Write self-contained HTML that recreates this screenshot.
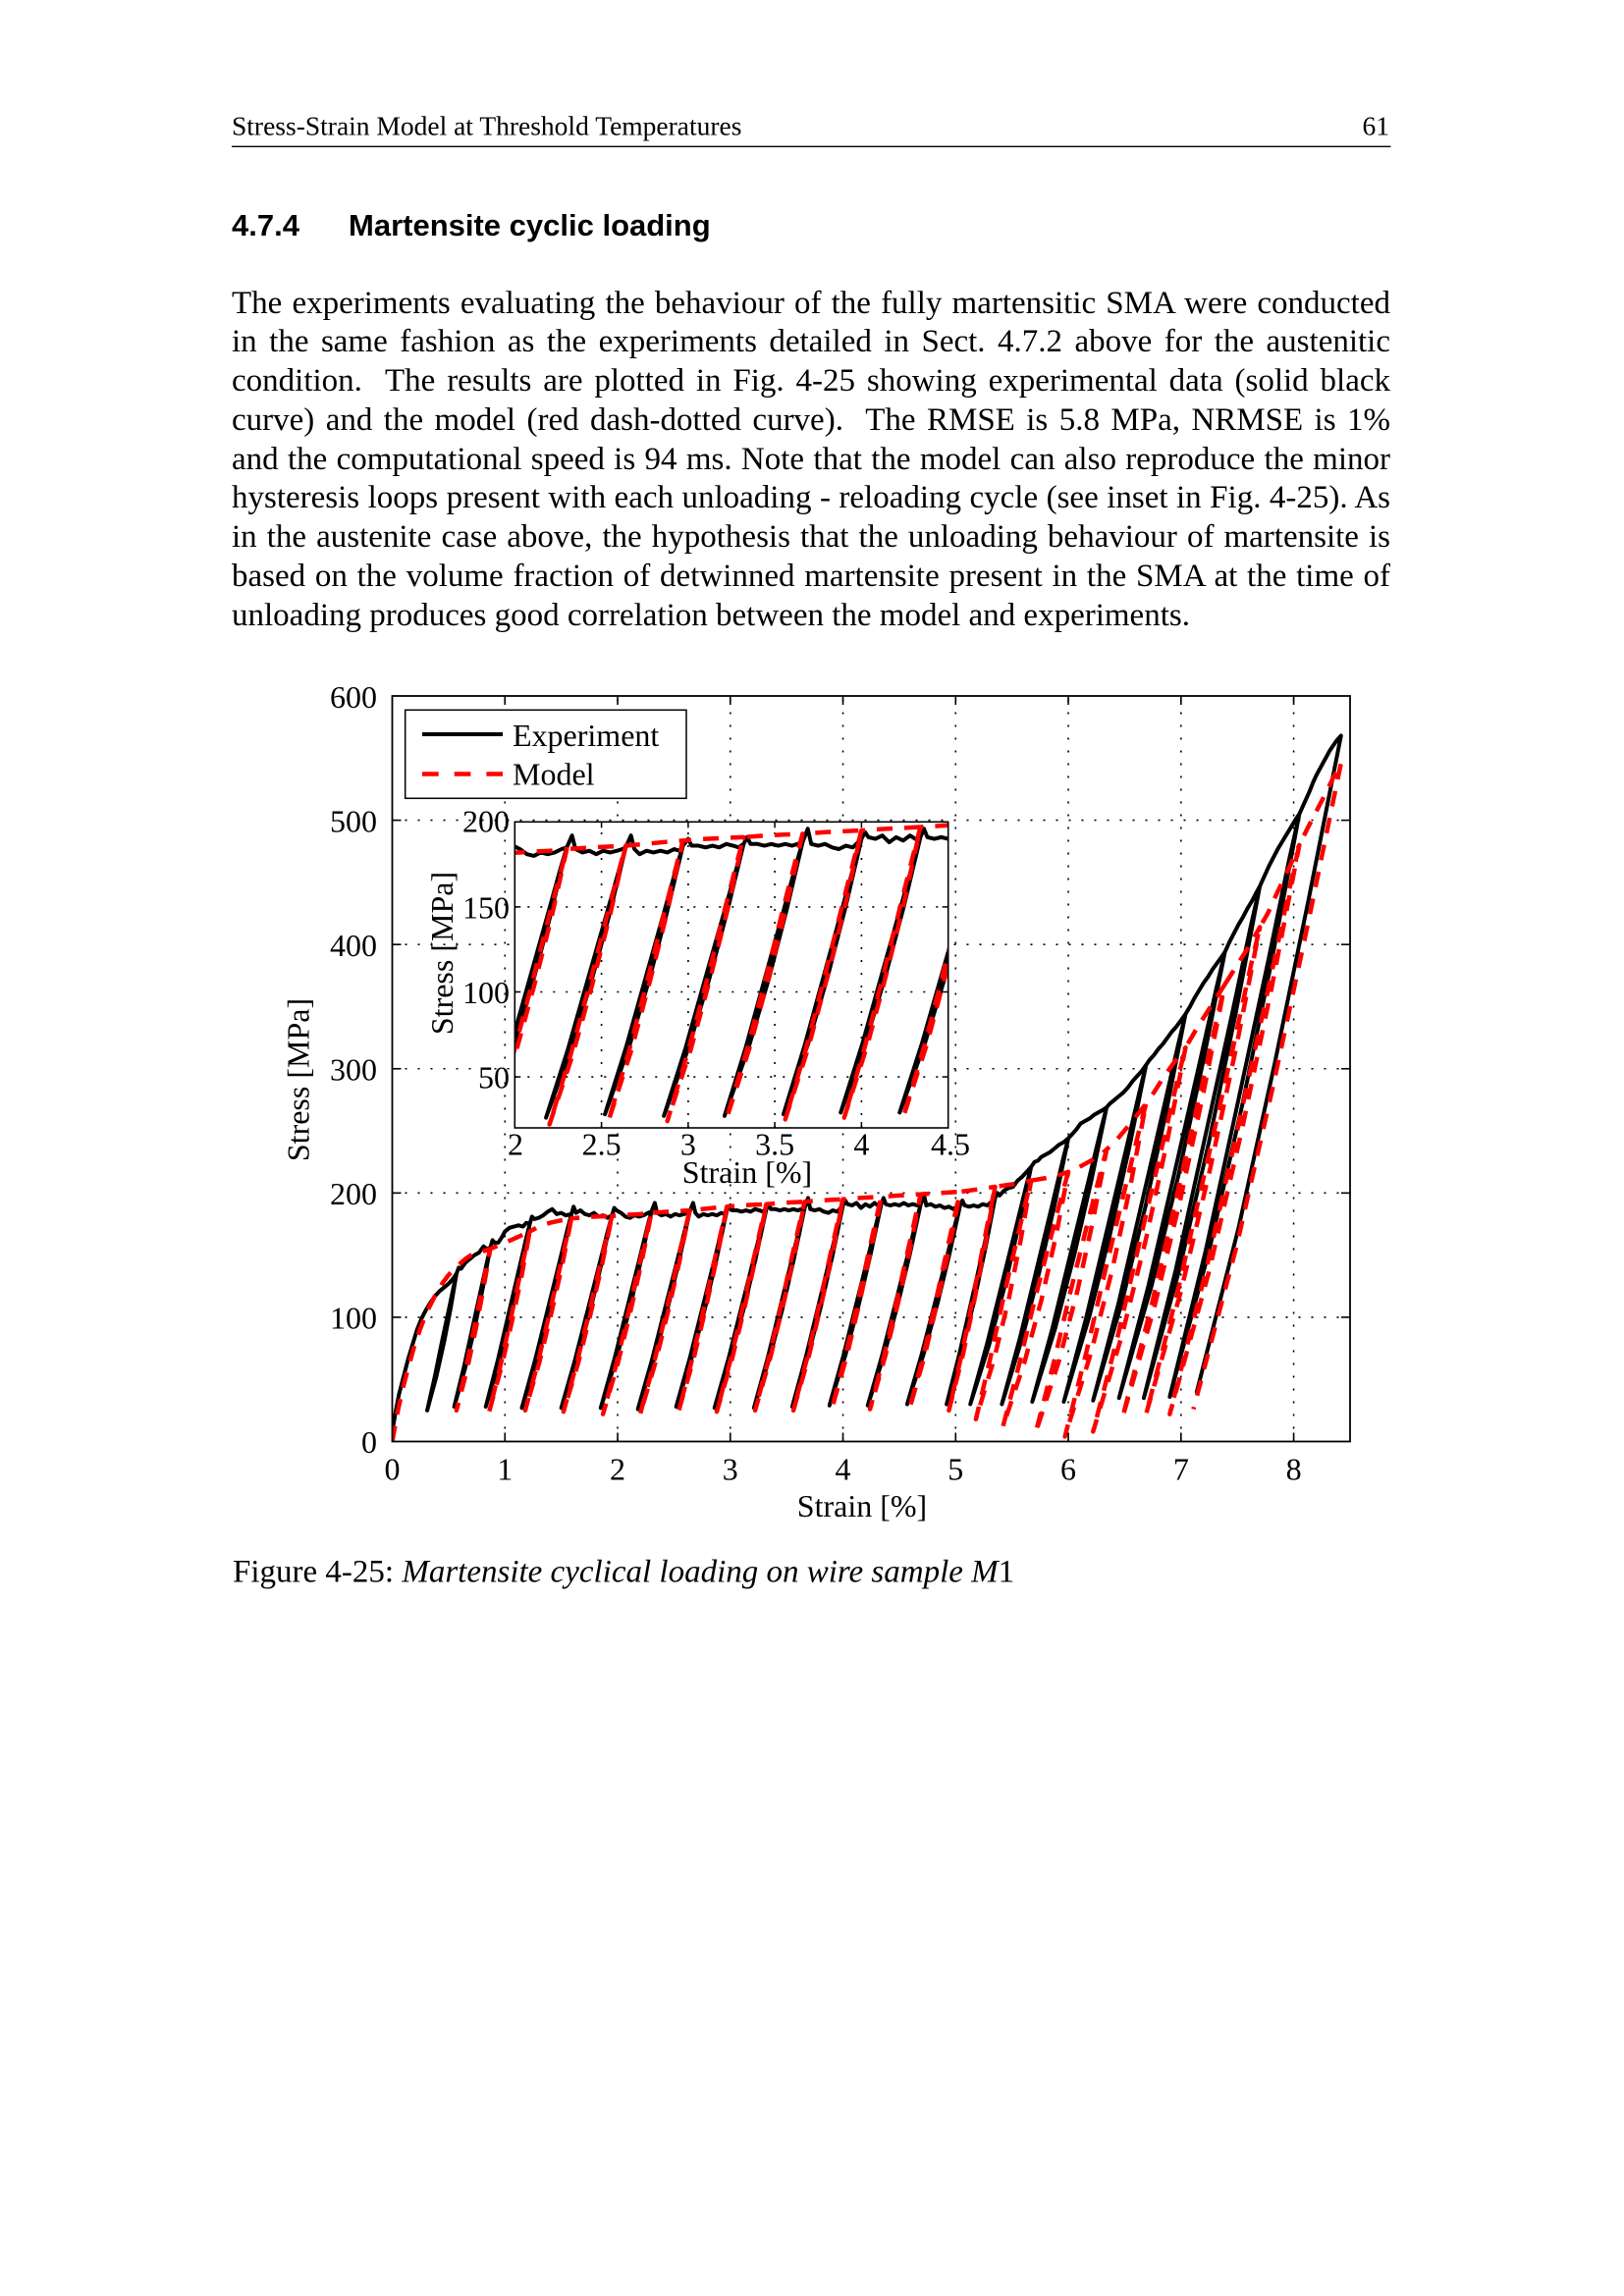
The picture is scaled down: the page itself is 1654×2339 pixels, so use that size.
<!DOCTYPE html>
<html><head><meta charset="utf-8">
<style>
html,body{margin:0;padding:0;background:#fff}
#pg{position:relative;width:1654px;height:2339px;overflow:hidden;background:#fff}
svg{position:absolute;left:0;top:0}
.par{position:absolute;left:236px;top:289.5px;width:1180px;font-family:"Liberation Serif",serif;font-size:33px;line-height:39.8px;color:#000}
.par div{height:39.8px;text-align:justify;text-align-last:justify;word-spacing:-2px}
.par div.last{text-align:left;text-align-last:left;word-spacing:0}
.t{font-family:"Liberation Serif",serif;font-size:32px;fill:#000}
</style></head>
<body><div id="pg">
<svg width="1654" height="2339" viewBox="0 0 1654 2339" xmlns="http://www.w3.org/2000/svg">
<defs>
<clipPath id="cm"><rect x="399.5" y="709" width="975.5" height="759.5"/></clipPath>
<clipPath id="ci"><rect x="524.3" y="837.3" width="441.4" height="311.7"/></clipPath>
</defs>

<!-- header -->
<text x="236" y="137.3" style="font-family:'Liberation Serif',serif;font-size:27.5px">Stress-Strain Model at Threshold Temperatures</text>
<text x="1415" y="137.3" text-anchor="end" style="font-family:'Liberation Serif',serif;font-size:27.5px">61</text>
<line x1="236" y1="149.3" x2="1416.5" y2="149.3" stroke="#000" stroke-width="1.3"/>
<text x="236" y="240" style="font-family:'Liberation Sans',sans-serif;font-size:31px;font-weight:bold">4.7.4</text>
<text x="355" y="240" style="font-family:'Liberation Sans',sans-serif;font-size:31px;font-weight:bold">Martensite cyclic loading</text>

<!-- main grid -->
<g stroke="#000" stroke-width="1.6" stroke-dasharray="2 11" fill="none">
<line x1="514.26" y1="1468.5" x2="514.26" y2="709"/>
<line x1="629.02" y1="1468.5" x2="629.02" y2="709"/>
<line x1="743.78" y1="1468.5" x2="743.78" y2="709"/>
<line x1="858.54" y1="1468.5" x2="858.54" y2="709"/>
<line x1="973.3" y1="1468.5" x2="973.3" y2="709"/>
<line x1="1088.06" y1="1468.5" x2="1088.06" y2="709"/>
<line x1="1202.82" y1="1468.5" x2="1202.82" y2="709"/>
<line x1="1317.58" y1="1468.5" x2="1317.58" y2="709"/>
<line x1="399.5" y1="1341.92" x2="1375" y2="1341.92"/>
<line x1="399.5" y1="1215.34" x2="1375" y2="1215.34"/>
<line x1="399.5" y1="1088.76" x2="1375" y2="1088.76"/>
<line x1="399.5" y1="962.18" x2="1375" y2="962.18"/>
<line x1="399.5" y1="835.6" x2="1375" y2="835.6"/>
</g>

<!-- main curves -->
<g clip-path="url(#cm)">
<g transform="matrix(114.76 0 0 -1.2658 399.5 1468.5)">
<path vector-effect="non-scaling-stroke" fill="none" stroke="#000" stroke-width="4" stroke-linejoin="round" stroke-linecap="round" d="M0,8 L0.03,24 0.06,38 0.1,52 0.14,66 0.18,78 0.22,90 0.26,99 0.3,106 0.34,112 0.38,117 0.42,121 0.46,124 0.5,127 0.54,131 0.57,135 0.519,107.5 0.46,80 0.392,52.5 0.31,25 0.378,52.5 0.44,80 0.505,107.5 0.548,126.2 0.57,135 0.59,140 0.61,139 0.65,144 0.69,147 0.73,150 0.77,152 0.81,157 0.84,155 0.87,156 0.805,124 0.733,92 0.65,60 0.55,28 0.636,60 0.713,92 0.791,124 0.844,145.8 0.87,156 0.89,162 0.91,160 0.94,160 0.97,164 1.0,169 1.04,172 1.08,173 1.12,174 1.16,173 1.19,176 1.22,175 1.141,138.25 1.053,101.5 0.952,64.75 0.83,28 0.935,64.75 1.029,101.5 1.124,138.25 1.188,163.2 1.22,175 1.24,181 1.26,179 1.3,180 1.34,182 1.38,185 1.42,187 1.46,183 1.5,184 1.54,182 1.59,183 1.499,144 1.4,105 1.286,66 1.15,27 1.269,66 1.376,105 1.483,144 1.554,170.5 1.59,183 1.61,189 1.63,184 1.67,186 1.71,183 1.75,182 1.79,184 1.83,181 1.87,182 1.91,180 1.95,182 1.857,143.25 1.755,104.5 1.639,65.75 1.5,27 1.622,65.75 1.731,104.5 1.84,143.25 1.913,169.6 1.95,182 1.97,188 1.99,186 2.03,184 2.07,181 2.11,180 2.15,182 2.19,181 2.23,182 2.27,184 2.3,185 2.207,145.5 2.105,106 1.989,66.5 1.85,27 1.972,66.5 2.081,106 2.19,145.5 2.263,172.4 2.3,185 2.33,192 2.35,184 2.39,182 2.43,183 2.47,181 2.51,183 2.55,182 2.59,183 2.62,184 2.64,185 2.545,145.25 2.44,105.5 2.322,65.75 2.18,26 2.305,65.75 2.416,105.5 2.528,145.25 2.603,172.3 2.64,185 2.67,192 2.69,184 2.72,181 2.76,183 2.8,182 2.84,183 2.88,182 2.92,184 2.95,183 2.97,186 2.877,146.5 2.775,107 2.659,67.5 2.52,28 2.642,67.5 2.751,107 2.86,146.5 2.933,173.4 2.97,186 3.0,190 3.02,186 3.06,186 3.1,185 3.14,186 3.18,185 3.22,187 3.26,186 3.29,185 3.32,187 3.225,147 3.12,107 3.002,67 2.86,27 2.985,67 3.096,107 3.208,147 3.283,174.2 3.32,187 3.34,191 3.36,187 3.4,187 3.44,186 3.48,187 3.52,186 3.56,187 3.6,186 3.63,187 3.66,188 3.567,147.75 3.465,107.5 3.349,67.25 3.21,27 3.332,67.25 3.441,107.5 3.55,147.75 3.623,175.1 3.66,188 3.69,196 3.71,187 3.75,186 3.79,187 3.83,185 3.87,184 3.91,186 3.95,185 3.98,188 4.0,190 3.907,149.5 3.805,109 3.689,68.5 3.55,28 3.672,68.5 3.781,109 3.89,149.5 3.963,177 4.0,190 4.02,194 4.04,191 4.08,190 4.12,192 4.16,188 4.2,191 4.24,189 4.28,192 4.31,190 4.34,191 4.245,150.5 4.14,110 4.022,69.5 3.88,29 4.005,69.5 4.116,110 4.228,150.5 4.303,178 4.34,191 4.36,196 4.38,191 4.42,190 4.46,191 4.5,190 4.54,192 4.58,190 4.62,191 4.66,190 4.69,191 4.593,150.5 4.486,110 4.365,69.5 4.22,29 4.348,69.5 4.462,110 4.576,150.5 4.652,178 4.69,191 4.72,198 4.74,190 4.78,191 4.82,189 4.86,190 4.9,188 4.94,189 4.98,187 5.01,189 5.04,190 4.943,150 4.836,110 4.715,70 4.57,30 4.698,70 4.812,110 4.926,150 5.002,177.2 5.04,190 5.06,194 5.08,190 5.12,189 5.16,190 5.2,189 5.24,191 5.28,190 5.32,193 5.35,196 5.262,154.5 5.164,113 5.053,71.5 4.92,30 5.036,71.5 5.14,113 5.245,154.5 5.315,182.7 5.35,196 5.37,200 5.39,198 5.43,202 5.47,204 5.51,205 5.55,210 5.59,213 5.63,217 5.67,221 5.559,173.25 5.437,125.5 5.297,77.75 5.13,30 5.276,77.75 5.407,125.5 5.538,173.25 5.626,205.7 5.67,221 5.7,225 5.73,226 5.76,229 5.8,231 5.84,233 5.88,236 5.92,239 5.96,241 6.0,244 5.878,190.5 5.744,137 5.592,83.5 5.41,30 5.571,83.5 5.714,137 5.857,190.5 5.952,226.9 6.0,244 6.03,247 6.07,251 6.11,256 6.15,258 6.19,260 6.23,263 6.27,265 6.31,267 6.34,269 6.204,209.75 6.054,150.5 5.884,91.25 5.68,32 5.859,91.25 6.018,150.5 6.179,209.75 6.286,250 6.34,269 6.37,272 6.41,275 6.45,278 6.49,281 6.53,285 6.57,290 6.61,294 6.65,298 6.69,303 6.538,235.25 6.372,167.5 6.184,99.75 5.96,32 6.159,99.75 6.336,167.5 6.513,235.25 6.631,281.3 6.69,303 6.72,307 6.76,311 6.8,316 6.84,320 6.88,325 6.92,330 6.96,334 7.0,339 7.04,344 6.87,266.25 6.683,188.5 6.472,110.75 6.22,33 6.444,110.75 6.643,188.5 6.841,266.25 6.974,319.1 7.04,344 7.08,350 7.12,357 7.16,363 7.2,369 7.24,374 7.28,380 7.32,385 7.36,390 7.39,394 7.193,304.25 6.978,214.5 6.737,124.75 6.45,35 6.709,124.75 6.938,214.5 7.164,304.25 7.315,365.3 7.39,394 7.43,402 7.47,409 7.51,416 7.55,422 7.59,429 7.63,435 7.67,442 7.7,447 7.484,344 7.248,241 6.984,138 6.67,35 6.953,138 7.204,241 7.453,344 7.617,414 7.7,447 7.74,455 7.78,463 7.82,470 7.86,477 7.9,483 7.94,489 7.98,495 8.02,501 8.05,505 7.807,387.75 7.543,270.5 7.249,153.25 6.9,36 7.218,153.25 7.499,270.5 7.776,387.75 7.958,467.5 8.05,505 8.08,511 8.11,517 8.14,523 8.17,530 8.2,536 8.23,541 8.26,546 8.29,551 8.32,556 8.35,560 8.38,564 8.42,568 8.132,436 7.831,304 7.511,172 7.14,40 7.17,46"/>
<path vector-effect="non-scaling-stroke" fill="none" stroke="#ff0000" stroke-width="4.5" stroke-dasharray="16 12" stroke-linejoin="round" d="M0,0 L0.05,25 0.1,45 0.15,62 0.2,78 0.25,91 0.3,103 0.35,112 0.4,121 0.45,128 0.5,134 0.55,139 0.6,143 0.65,147 0.7,150 0.75,151.5 0.8,153 0.87,155 0.808,122.5 0.74,90 0.663,57.5 0.57,25 0.651,57.5 0.724,90 0.797,122.5 0.845,144.6 0.87,155 0.95,158 1.0,160 1.1,164 1.22,169 1.147,132.75 1.062,96.5 0.97,60.25 0.86,24 0.958,60.25 1.046,96.5 1.131,132.75 1.191,157.4 1.22,169 1.3,173 1.4,176 1.5,178 1.59,179.5 1.506,140.9 1.409,102.25 1.305,63.6 1.18,25 1.293,63.6 1.393,102.25 1.49,140.9 1.557,167.1 1.59,179.5 1.7,180.5 1.8,181 1.95,181.5 1.861,142.1 1.76,102.75 1.651,63.4 1.52,24 1.639,63.4 1.744,102.75 1.845,142.1 1.916,168.9 1.95,181.5 2.1,182.5 2.2,183 2.3,184 2.211,143.5 2.11,103 2.001,62.5 1.87,22 1.989,62.5 2.094,103 2.195,143.5 2.266,171 2.3,184 2.45,185 2.55,185.5 2.64,186 2.549,145 2.446,104 2.334,63 2.2,22 2.322,63 2.43,104 2.533,145 2.605,172.9 2.64,186 2.8,187.5 2.9,188.5 2.97,189 2.881,147.75 2.78,106.5 2.671,65.25 2.54,24 2.659,65.25 2.764,106.5 2.865,147.75 2.936,175.8 2.97,189 3.1,190 3.2,190.5 3.32,191 3.229,149.25 3.126,107.5 3.014,65.75 2.88,24 3.002,65.75 3.11,107.5 3.213,149.25 3.285,177.6 3.32,191 3.45,192 3.55,192.5 3.66,193 3.569,151 3.466,109 3.354,67 3.22,25 3.342,67 3.45,109 3.553,151 3.625,179.6 3.66,193 3.8,194 3.9,194.5 4.0,195 3.909,152.5 3.806,110 3.694,67.5 3.56,25 3.682,67.5 3.79,110 3.893,152.5 3.965,181.4 4.0,195 4.15,196 4.25,196.5 4.34,197 4.249,154.25 4.146,111.5 4.034,68.75 3.9,26 4.022,68.75 4.13,111.5 4.233,154.25 4.305,183.3 4.34,197 4.5,198 4.6,198.5 4.69,199 4.597,155.75 4.491,112.5 4.377,69.25 4.24,26 4.365,69.25 4.475,112.5 4.581,155.75 4.654,185.2 4.69,199 4.85,200 5.04,201 4.947,157.25 4.841,113.5 4.727,69.75 4.59,26 4.715,69.75 4.825,113.5 4.931,157.25 5.004,187 5.04,201 5.2,203 5.35,205 5.266,160 5.169,115 5.065,70 4.94,25 5.053,70 5.153,115 5.25,160 5.317,190.6 5.35,205 5.5,207 5.67,210 5.577,162 5.47,114 5.34,66 5.18,18 5.305,66 5.42,114 5.542,162 5.627,194.6 5.67,210 5.8,212 5.9,214 6.0,217 5.891,165.75 5.763,114.5 5.609,63.25 5.42,12 5.567,63.25 5.703,114.5 5.849,165.75 5.949,200.6 6.0,217 6.1,221 6.2,226 6.28,230 6.34,235 6.219,178 6.08,121 5.914,64 5.71,7 5.872,64 6.02,121 6.177,178 6.286,216.8 6.34,235 6.45,245 6.57,258 6.69,272 6.549,205 6.389,138 6.2,71 5.97,4 6.158,71 6.329,138 6.507,205 6.629,250.6 6.69,272 6.76,281 6.83,291 6.93,304 7.04,317 6.873,239.75 6.688,162.5 6.475,85.25 6.22,8 6.44,85.25 6.638,162.5 6.838,239.75 6.972,292.3 7.04,317 7.15,334 7.27,351 7.39,368 7.199,280.75 6.991,193.5 6.758,106.25 6.48,19 6.73,106.25 6.951,193.5 7.171,280.75 7.317,340.1 7.39,368 7.53,388 7.62,401 7.7,414 7.487,316 7.255,218 6.997,120 6.69,22 6.969,120 7.215,218 7.459,316 7.619,382.6 7.7,414 7.77,425 7.85,441 7.95,460 8.05,480 7.805,365.5 7.541,251 7.248,136.5 6.9,22 7.219,136.5 7.501,251 7.777,365.5 7.959,443.4 8.05,480 8.12,493 8.2,507 8.28,521 8.35,534 8.42,546 8.125,416 7.817,286 7.49,156 7.11,26"/>
</g>
</g>

<!-- main axes box + ticks -->
<rect x="399.5" y="709" width="975.5" height="759.5" fill="none" stroke="#000" stroke-width="1.8"/>
<g stroke="#000" stroke-width="1.6">
<line x1="514.26" y1="1468.5" x2="514.26" y2="1459.5"/><line x1="629.02" y1="1468.5" x2="629.02" y2="1459.5"/><line x1="743.78" y1="1468.5" x2="743.78" y2="1459.5"/><line x1="858.54" y1="1468.5" x2="858.54" y2="1459.5"/><line x1="973.3" y1="1468.5" x2="973.3" y2="1459.5"/><line x1="1088.06" y1="1468.5" x2="1088.06" y2="1459.5"/><line x1="1202.82" y1="1468.5" x2="1202.82" y2="1459.5"/><line x1="1317.58" y1="1468.5" x2="1317.58" y2="1459.5"/>
<line x1="514.26" y1="709" x2="514.26" y2="718"/><line x1="629.02" y1="709" x2="629.02" y2="718"/><line x1="743.78" y1="709" x2="743.78" y2="718"/><line x1="858.54" y1="709" x2="858.54" y2="718"/><line x1="973.3" y1="709" x2="973.3" y2="718"/><line x1="1088.06" y1="709" x2="1088.06" y2="718"/><line x1="1202.82" y1="709" x2="1202.82" y2="718"/><line x1="1317.58" y1="709" x2="1317.58" y2="718"/>
<line x1="399.5" y1="1341.92" x2="408.5" y2="1341.92"/><line x1="399.5" y1="1215.34" x2="408.5" y2="1215.34"/><line x1="399.5" y1="1088.76" x2="408.5" y2="1088.76"/><line x1="399.5" y1="962.18" x2="408.5" y2="962.18"/><line x1="399.5" y1="835.6" x2="408.5" y2="835.6"/>
<line x1="1375" y1="1341.92" x2="1366" y2="1341.92"/><line x1="1375" y1="1215.34" x2="1366" y2="1215.34"/><line x1="1375" y1="1088.76" x2="1366" y2="1088.76"/><line x1="1375" y1="962.18" x2="1366" y2="962.18"/><line x1="1375" y1="835.6" x2="1366" y2="835.6"/>
</g>

<!-- main tick labels -->
<g class="t" text-anchor="end">
<text class="t" x="384" y="721">600</text>
<text class="t" x="384" y="847.3">500</text>
<text class="t" x="384" y="973.9">400</text>
<text class="t" x="384" y="1100.4">300</text>
<text class="t" x="384" y="1227">200</text>
<text class="t" x="384" y="1353.6">100</text>
<text class="t" x="384" y="1480.2">0</text>
</g>
<g class="t" text-anchor="middle">
<text class="t" x="399.5" y="1507.3">0</text>
<text class="t" x="514.26" y="1507.3">1</text>
<text class="t" x="629.02" y="1507.3">2</text>
<text class="t" x="743.78" y="1507.3">3</text>
<text class="t" x="858.54" y="1507.3">4</text>
<text class="t" x="973.3" y="1507.3">5</text>
<text class="t" x="1088.06" y="1507.3">6</text>
<text class="t" x="1202.82" y="1507.3">7</text>
<text class="t" x="1317.58" y="1507.3">8</text>
<text class="t" x="878" y="1545">Strain [%]</text>
<text class="t" x="314.5" y="1100" transform="rotate(-90 314.5 1100)">Stress [MPa]</text>
</g>

<!-- legend -->
<rect x="412.7" y="723.3" width="286.3" height="90" fill="#fff" stroke="#000" stroke-width="1.5"/>
<line x1="430" y1="748" x2="512" y2="748" stroke="#000" stroke-width="4"/>
<line x1="430" y1="788.5" x2="512" y2="788.5" stroke="#ff0000" stroke-width="4.5" stroke-dasharray="16.7 16"/>
<text class="t" x="522" y="760">Experiment</text>
<text class="t" x="522" y="799.5">Model</text>

<!-- inset -->
<rect x="524.3" y="837.3" width="441.4" height="311.7" fill="#fff"/>
<g stroke="#000" stroke-width="1.6" stroke-dasharray="2 11" fill="none">
<line x1="612.6" y1="1149" x2="612.6" y2="837.3"/>
<line x1="700.9" y1="1149" x2="700.9" y2="837.3"/>
<line x1="789.1" y1="1149" x2="789.1" y2="837.3"/>
<line x1="877.4" y1="1149" x2="877.4" y2="837.3"/>
<line x1="524.3" y1="1097.05" x2="965.7" y2="1097.05"/>
<line x1="524.3" y1="1010.5" x2="965.7" y2="1010.5"/>
<line x1="524.3" y1="923.9" x2="965.7" y2="923.9"/>
</g>
<g clip-path="url(#ci)">
<g transform="matrix(176.56 0 0 -1.7317 171.18 1183.63)">
<path vector-effect="non-scaling-stroke" fill="none" stroke="#000" stroke-width="4" stroke-linejoin="round" stroke-linecap="round" d="M1.5,184 L1.54,182 1.59,183 1.499,144 1.4,105 1.286,66 1.15,27 1.269,66 1.376,105 1.483,144 1.554,170.5 1.59,183 1.61,189 1.63,184 1.67,186 1.71,183 1.75,182 1.79,184 1.83,181 1.87,182 1.91,180 1.95,182 1.857,143.25 1.755,104.5 1.639,65.75 1.5,27 1.622,65.75 1.731,104.5 1.84,143.25 1.913,169.6 1.95,182 1.97,188 1.99,186 2.03,184 2.07,181 2.11,180 2.15,182 2.19,181 2.23,182 2.27,184 2.3,185 2.207,145.5 2.105,106 1.989,66.5 1.85,27 1.972,66.5 2.081,106 2.19,145.5 2.263,172.4 2.3,185 2.33,192 2.35,184 2.39,182 2.43,183 2.47,181 2.51,183 2.55,182 2.59,183 2.62,184 2.64,185 2.545,145.25 2.44,105.5 2.322,65.75 2.18,26 2.305,65.75 2.416,105.5 2.528,145.25 2.603,172.3 2.64,185 2.67,192 2.69,184 2.72,181 2.76,183 2.8,182 2.84,183 2.88,182 2.92,184 2.95,183 2.97,186 2.877,146.5 2.775,107 2.659,67.5 2.52,28 2.642,67.5 2.751,107 2.86,146.5 2.933,173.4 2.97,186 3.0,190 3.02,186 3.06,186 3.1,185 3.14,186 3.18,185 3.22,187 3.26,186 3.29,185 3.32,187 3.225,147 3.12,107 3.002,67 2.86,27 2.985,67 3.096,107 3.208,147 3.283,174.2 3.32,187 3.34,191 3.36,187 3.4,187 3.44,186 3.48,187 3.52,186 3.56,187 3.6,186 3.63,187 3.66,188 3.567,147.75 3.465,107.5 3.349,67.25 3.21,27 3.332,67.25 3.441,107.5 3.55,147.75 3.623,175.1 3.66,188 3.69,196 3.71,187 3.75,186 3.79,187 3.83,185 3.87,184 3.91,186 3.95,185 3.98,188 4.0,190 3.907,149.5 3.805,109 3.689,68.5 3.55,28 3.672,68.5 3.781,109 3.89,149.5 3.963,177 4.0,190 4.02,194 4.04,191 4.08,190 4.12,192 4.16,188 4.2,191 4.24,189 4.28,192 4.31,190 4.34,191 4.245,150.5 4.14,110 4.022,69.5 3.88,29 4.005,69.5 4.116,110 4.228,150.5 4.303,178 4.34,191 4.36,196 4.38,191 4.42,190 4.46,191 4.5,190 4.54,192 4.58,190 4.62,191 4.66,190 4.69,191 4.593,150.5 4.486,110 4.365,69.5 4.22,29 4.348,69.5 4.462,110 4.576,150.5 4.652,178 4.69,191"/>
<path vector-effect="non-scaling-stroke" fill="none" stroke="#ff0000" stroke-width="4.5" stroke-dasharray="16 12" stroke-linejoin="round" d="M1.5,178 L1.59,179.5 1.506,140.9 1.409,102.25 1.305,63.6 1.18,25 1.293,63.6 1.393,102.25 1.49,140.9 1.557,167.1 1.59,179.5 1.7,180.5 1.8,181 1.95,181.5 1.861,142.1 1.76,102.75 1.651,63.4 1.52,24 1.639,63.4 1.744,102.75 1.845,142.1 1.916,168.9 1.95,181.5 2.1,182.5 2.2,183 2.3,184 2.211,143.5 2.11,103 2.001,62.5 1.87,22 1.989,62.5 2.094,103 2.195,143.5 2.266,171 2.3,184 2.45,185 2.55,185.5 2.64,186 2.549,145 2.446,104 2.334,63 2.2,22 2.322,63 2.43,104 2.533,145 2.605,172.9 2.64,186 2.8,187.5 2.9,188.5 2.97,189 2.881,147.75 2.78,106.5 2.671,65.25 2.54,24 2.659,65.25 2.764,106.5 2.865,147.75 2.936,175.8 2.97,189 3.1,190 3.2,190.5 3.32,191 3.229,149.25 3.126,107.5 3.014,65.75 2.88,24 3.002,65.75 3.11,107.5 3.213,149.25 3.285,177.6 3.32,191 3.45,192 3.55,192.5 3.66,193 3.569,151 3.466,109 3.354,67 3.22,25 3.342,67 3.45,109 3.553,151 3.625,179.6 3.66,193 3.8,194 3.9,194.5 4.0,195 3.909,152.5 3.806,110 3.694,67.5 3.56,25 3.682,67.5 3.79,110 3.893,152.5 3.965,181.4 4.0,195 4.15,196 4.25,196.5 4.34,197 4.249,154.25 4.146,111.5 4.034,68.75 3.9,26 4.022,68.75 4.13,111.5 4.233,154.25 4.305,183.3 4.34,197 4.5,198 4.6,198.5 4.69,199 4.597,155.75 4.491,112.5 4.377,69.25 4.24,26 4.365,69.25 4.475,112.5 4.581,155.75 4.654,185.2 4.69,199"/>
</g>
</g>
<rect x="524.3" y="837.3" width="441.4" height="311.7" fill="none" stroke="#000" stroke-width="1.6"/>
<g stroke="#000" stroke-width="1.5">
<line x1="612.6" y1="1149" x2="612.6" y2="1143"/><line x1="700.9" y1="1149" x2="700.9" y2="1143"/><line x1="789.1" y1="1149" x2="789.1" y2="1143"/><line x1="877.4" y1="1149" x2="877.4" y2="1143"/>
<line x1="612.6" y1="837.3" x2="612.6" y2="843.3"/><line x1="700.9" y1="837.3" x2="700.9" y2="843.3"/><line x1="789.1" y1="837.3" x2="789.1" y2="843.3"/><line x1="877.4" y1="837.3" x2="877.4" y2="843.3"/>
<line x1="524.3" y1="1097.05" x2="530.3" y2="1097.05"/><line x1="524.3" y1="1010.5" x2="530.3" y2="1010.5"/><line x1="524.3" y1="923.9" x2="530.3" y2="923.9"/>
<line x1="965.7" y1="1097.05" x2="959.7" y2="1097.05"/><line x1="965.7" y1="1010.5" x2="959.7" y2="1010.5"/><line x1="965.7" y1="923.9" x2="959.7" y2="923.9"/>
</g>
<g text-anchor="end">
<text class="t" x="519" y="847.5">200</text>
<text class="t" x="519" y="935.5">150</text>
<text class="t" x="519" y="1022">100</text>
<text class="t" x="519" y="1108.5">50</text>
</g>
<g text-anchor="middle">
<text class="t" x="525" y="1176.5">2</text>
<text class="t" x="612.6" y="1176.5">2.5</text>
<text class="t" x="700.9" y="1176.5">3</text>
<text class="t" x="789.1" y="1176.5">3.5</text>
<text class="t" x="877.4" y="1176.5">4</text>
<text class="t" x="968" y="1176.5">4.5</text>
<text class="t" x="761" y="1205">Strain [%]</text>
<text class="t" x="461" y="971" transform="rotate(-90 461 971)">Stress [MPa]</text>
</g>

<!-- caption -->
<text x="237" y="1611.7" style="font-family:'Liberation Serif',serif;font-size:33px">Figure 4-25: <tspan font-style="italic">Martensite cyclical loading on wire sample M</tspan>1</text>
</svg>

<div class="par">
<div>The experiments evaluating the behaviour of the fully martensitic SMA were conducted</div>
<div>in the same fashion as the experiments detailed in Sect. 4.7.2 above for the austenitic</div>
<div>condition.&nbsp; The results are plotted in Fig. 4-25 showing experimental data (solid black</div>
<div>curve) and the model (red dash-dotted curve).&nbsp; The RMSE is 5.8 MPa, NRMSE is 1%</div>
<div>and the computational speed is 94 ms. Note that the model can also reproduce the minor</div>
<div>hysteresis loops present with each unloading - reloading cycle (see inset in Fig. 4-25). As</div>
<div>in the austenite case above, the hypothesis that the unloading behaviour of martensite is</div>
<div>based on the volume fraction of detwinned martensite present in the SMA at the time of</div>
<div class="last">unloading produces good correlation between the model and experiments.</div>
</div>
</div></body></html>
